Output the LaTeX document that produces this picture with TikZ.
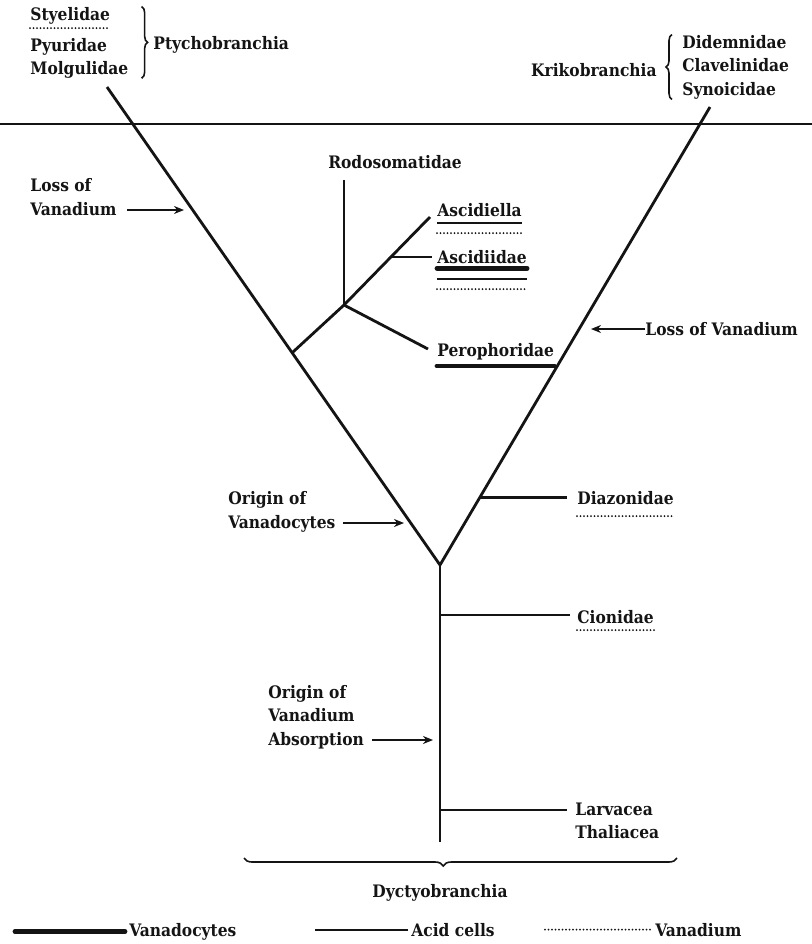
\documentclass[tikz,border=0pt]{standalone}
\usepackage{fontspec}
\setmainfont{DejaVu Serif Condensed}
\usepackage{tikz}
\usetikzlibrary{
  arrows.meta,calc,positioning,decorations.pathreplacing
}
\definecolor{InkBlack}{RGB}{20,20,20}

\begin{document}
\begin{tikzpicture}[x=.5pt,y=-.5pt,
    every node/.style={font=\fontsize{8.6}{11.8}\selectfont\bfseries,text=InkBlack,inner sep=0pt},
    branch/.style={draw=InkBlack,line width=1.4pt},
    vcyte/.style={draw=InkBlack,line width=2.4pt,line cap=round},
    acid/.style={draw=InkBlack,line width=1pt},
    vana/.style={draw=InkBlack,line width=1pt,line cap=round,dash pattern=on 0pt off 1.75pt},
    pointer/.style={draw=InkBlack,line width=1pt,-{Stealth[length=5pt,width=4pt]}},
    curly/.style={draw=InkBlack,line width=.8pt,decorate,decoration={brace,amplitude=#1}},
  ]
  \fill[white] (0,0) rectangle (812,944);
  \useasboundingbox (0,0) rectangle (812,944);

  % the Y of the tree
  \coordinate (ltop) at (107,87);
  \coordinate (rtop) at (710,107);
  \coordinate (fork) at (440,565);
  \coordinate (sbot) at (440,842);
  \coordinate (ruleL) at (0,124);
  \coordinate (ruleR) at (812,124);
  \draw[InkBlack,line width=1.1pt] (ruleL) -- (ruleR);
  \draw[branch] (ltop) -- (fork) -- (rtop);
  \draw[branch] (fork) -- (sbot);

  % ascidian side branches
  \coordinate (asc0) at ($(ltop)!.556!(fork)$);
  \coordinate (rod) at (344,305);
  \coordinate (rodtop) at (344,180);
  \coordinate (aslend) at (430,217);
  \coordinate (peroend) at (428,349);
  \coordinate (aid0) at ($(rod)!.545!(aslend)$);
  \draw[branch] (asc0) -- (rod) -- (aslend);
  \draw[branch] (rod) -- (rodtop);
  \draw[branch] (rod) -- (peroend);
  \node[anchor=base] (rodl) at (395,168) {Rodosomatidae};
  \node[anchor=base west] (asl) at (437,216) {Ascidiella};
  \node[anchor=base west] (aid) at (437,263) {Ascidiidae};
  \node[anchor=base west] (pero) at (437,356) {Perophoridae};
  \draw[branch,shorten >=2.5pt] (aid0) -- (aid0 -| aid.west);

  % branches on the right
  \coordinate (dia0) at ($(fork)!.148!(rtop)$);
  \coordinate (cio0) at (440,615);
  \coordinate (lar0) at (440,810);
  \node[anchor=base west] (dia) at (577,504) {Diazonidae};
  \node[anchor=base west] (cio) at (577,623) {Cionidae};
  \node[anchor=west,align=left] (lar) at (575,821) {Larvacea\\Thaliacea};
  \draw[branch,shorten >=5pt] (dia0) -- (dia0 -| dia.west);
  \draw[branch,shorten >=3.5pt] (cio0) -- (cio0 -| cio.west);
  \draw[branch,shorten >=4pt] (lar0) -- (lar0 -| lar.west);

  % arrows
  \coordinate (lossLtip) at (184,210);
  \node[anchor=west,align=left] (lossL) at (30,197) {Loss of\\Vanadium};
  \draw[pointer] ($(lossLtip -| lossL.east)+(10,0)$) -- (lossLtip);
  \coordinate (lossRtip) at (591,329);
  \node[anchor=base west] (lossR) at (645,335) {Loss of Vanadium};
  \draw[pointer] (lossRtip -| lossR.west) -- (lossRtip);
  \coordinate (vcytip) at (404,523);
  \node[anchor=west,align=left] (origV) at (228,512) {Origin of\\Vanadocytes};
  \draw[pointer] ($(vcytip -| origV.east)+(7,0)$) -- (vcytip);
  \coordinate (abstip) at (433,740);
  \node[anchor=west,align=left] (origA) at (268,717) {Origin of\\Vanadium\\Absorption};
  \draw[pointer] ($(abstip -| origA.east)+(8,0)$) -- (abstip);

  % groups at the top
  \foreach \nm/\y/\txt in {sty/20/Styelidae,pyu/51/Pyuridae,mol/74/Molgulidae}
    \node[anchor=base west] (\nm) at (30,\y) {\txt};
  \draw[curly=3pt] ($(sty.north -| mol.east)+(13,0)$) -- ($(mol.south east)+(13,0)$);
  \node[anchor=base west] (ptyc) at (153,49) {Ptychobranchia};
  \node[anchor=west,align=left] (kriks) at (682,67) {Didemnidae\\Clavelinidae\\Synoicidae};
  \draw[curly=3pt] ($(kriks.south west)+(-10,0)$) -- ($(kriks.north west)+(-10,0)$);
  \node[anchor=base east] (krik) at (657,76) {Krikobranchia};

  % underlines
  \foreach \lbl/\dy/\kind in {asl/3.5pt/acid,asl/8.5pt/vana,aid/2.6pt/vcyte,aid/8pt/acid,
      aid/13pt/vana,pero/5pt/vcyte,dia/6pt/vana,cio/3.6pt/vana,sty/4pt/vana}
    \draw[\kind] ([yshift=-\dy]\lbl.base west) -- ([yshift=-\dy]\lbl.base east);

  % Dyctyobranchia
  \coordinate (dyL) at (244,858);
  \coordinate (dyR) at (677,858);
  \draw[curly=4pt,decoration={aspect=.54}] (dyR) -- (dyL);
  \node[anchor=base] (dyct) at (440,897) {Dyctyobranchia};

  % legend
  \node[anchor=base west] (legV) at (129,936) {Vanadocytes};
  \node[anchor=base west] (legA) at (411,936) {Acid cells};
  \node[anchor=base west] (legD) at (655,936) {Vanadium};
  \draw[vcyte] ($(legV.west)+(-4,0)$) -- ++(-110,0);
  \draw[acid] ($(legA.west)+(-3,0)$) -- ++(-93,0);
  \draw[vana] ($(legD.west)+(-5,0)$) -- ++(-105,0);
\end{tikzpicture}
\end{document}
